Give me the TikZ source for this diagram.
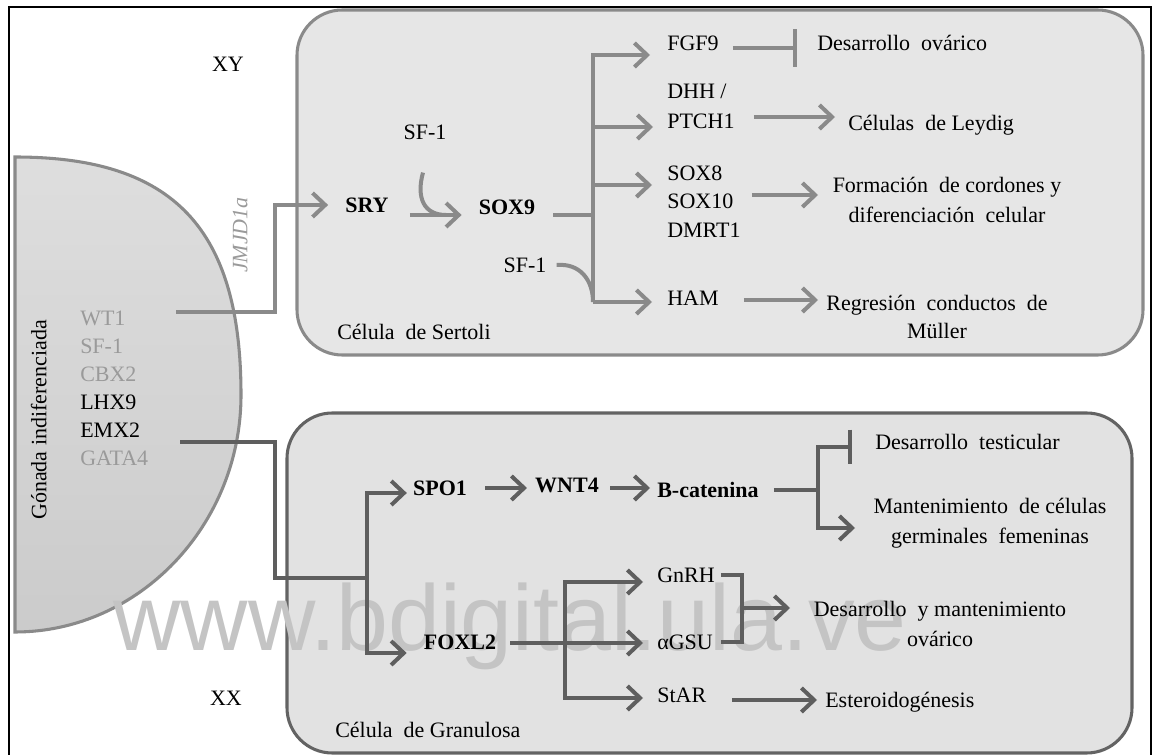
\documentclass[tikz,border=0pt]{standalone}
\usepackage{fontspec}
\setmainfont{Liberation Serif}
\newfontfamily\wmfont{Liberation Sans}
\usetikzlibrary{arrows.meta,calc}
\definecolor{ug}{HTML}{8A8A8A}
\definecolor{lgc}{HTML}{5E5E5E}
\definecolor{gn}{HTML}{9A9A9A}
\definecolor{boxa}{HTML}{E6E6E6}
\definecolor{boxb}{HTML}{E2E2E2}
\definecolor{brda}{HTML}{8A8A8A}
\definecolor{brdb}{HTML}{636363}
\definecolor{gona}{HTML}{DEDEDE}
\definecolor{gonb}{HTML}{CBCBCB}
\definecolor{wm}{HTML}{C4C4C4}
\begin{document}
\begin{tikzpicture}[x=0.75pt,y=-0.75pt,
  t/.style={font=\fontsize{16.5}{21}\selectfont, inner sep=0pt, text height=11pt, text depth=0pt},
  b/.style={t, font=\fontsize{16.5}{21}\selectfont\bfseries},
  ml/.style={font=\fontsize{16.5}{22.5}\selectfont, inner sep=0pt, align=center},
  mls/.style={font=\fontsize{16.5}{21.5}\selectfont, inner sep=0pt, align=left},
  ul/.style={draw=ug, line width=3pt},
  ua/.style={ul, -{Straight Barb[length=9.5pt,width=18pt]}},
  ll/.style={draw=lgc, line width=3pt},
  la/.style={ll, -{Straight Barb[length=9.5pt,width=18pt]}},
  ubar/.style={ul, -{Bar[width=28pt]}},
  lbar/.style={ll, -{Bar[width=26pt]}},
  boxA/.style={fill=boxa, draw=brda, line width=2.3pt, rounded corners=34pt},
  boxB/.style={fill=boxb, draw=brdb, line width=2.3pt, rounded corners=34pt},
]
\useasboundingbox (0,0) rectangle (1154,755);
% outer frame
\draw[black, line width=2.2pt] (9,760) -- (9,7) -- (1151,7) -- (1151,760);
% cell boxes
\path[boxA] (297,10) rectangle (1143,355);
\path[boxB] (287,413) rectangle (1132,753);
% gonad
\path[draw=brda, line width=2.3pt, top color=gona, bottom color=gonb]
  (15,157) .. controls (173,157) and (241,228) .. (241,395)
  .. controls (241,525) and (139,632) .. (15,632) -- cycle;
% watermark
\node[anchor=base west, inner sep=0pt, text=wm, font=\fontsize{70}{70}\selectfont\wmfont] (WM) at (113,650) {www.bdigital.ula.ve};

\node[t, rotate=90] (Gon) at (39,420) {Gónada indiferenciada};
\node[t, anchor=west, text=gn] (WT1) at (80,318) {WT1};
\node[t, anchor=west, text=gn] (SF1g) at (80,346) {SF-1};
\node[t, anchor=west, text=gn] (CBX2) at (80,374) {CBX2};
\node[t, anchor=west] (LHX9) at (80,402) {LHX9};
\node[t, anchor=west] (EMX2) at (80,430) {EMX2};
\node[t, anchor=west, text=gn] (GATA4) at (80,458) {GATA4};

% ---------- XY / Sertoli ----------
\node[t] (XY) at (228,64) {XY};
\node[t, rotate=90, text=gn, font=\fontsize{16.5}{21}\selectfont\itshape] (JMJ) at (240,235) {JMJD1a};
\node[b] (SRY) at (367,205) {SRY};
\node[t] (SF1a) at (425,132) {SF-1};
\node[b] (SOX9) at (507,207) {SOX9};
\node[t] (SF1b) at (525,265) {SF-1};
\node[t, anchor=west] (FGF9) at (667,43) {FGF9};
\node[ml, align=left, anchor=west] (DHH) at (667,108) {\strut DHH /\\\strut PTCH1};
\node[mls, anchor=west] (SOX8) at (667,203) {\strut SOX8\\\strut SOX10\\\strut DMRT1};
\node[t, anchor=west] (HAM) at (667,298) {HAM};
\node[t, anchor=west] (DesOv) at (817,43) {Desarrollo\ \ ovárico};
\node[t, anchor=west] (Leydig) at (848,123) {Células\ \ de Leydig};
\node[ml] (Form) at (947,202) {\strut Formación\ \ de cordones y\\\strut diferenciación\ \ celular};
\node[ml, font=\fontsize{16.5}{21}\selectfont] (Regr) at (937,319) {\strut Regresión\ \ conductos\ \ de\\\strut Müller};
\node[t, anchor=west] (Sertoli) at (337,332) {Célula\ \ de Sertoli};

\coordinate (gA) at (176,312);
\coordinate (kXY) at (275,205);
\draw[ua] (gA) -| (kXY) -- ($(SRY.west)+(-17,0)$);
\draw[ua] ($(SRY.east)+(21,10)$) -- ($(SOX9.west)+(-17,8)$);
\draw[ul] ($(SF1a.south)+(-2,33)$) .. controls (416,198) and (424,215) .. (446,215);
\coordinate (tB) at (593,302);
\draw[ul] ($(SOX9.east)+(18,8)$) -- (tB |- {$(SOX9.east)+(18,8)$});
\draw[ua] (tB) |- ($(FGF9.west)+(-17,12)$);
\draw[ua] (tB) -- ($(HAM.west)+(-15,4)$);
\draw[ua] ($(DHH.west)+(-74,19)$) -- ($(DHH.west)+(-14,19)$);
\draw[ua] ($(SOX8.west)+(-74,-18)$) -- ($(SOX8.west)+(-15,-18)$);
\draw[ul] ($(SF1b.east)+(10,0)$) .. controls (580,263) and (593,280) .. (tB);
\draw[ubar] ($(FGF9.east)+(14,5)$) -- ($(DesOv.west)+(-20,5)$);
\draw[ua] ($(DHH.east)+(19,9)$) -- ($(Leydig.west)+(-13,-6)$);
\draw[ua] ($(SOX8.east)+(11,-8)$) -- ($(Form.center)+(-129,-7)$);
\draw[ua] ($(HAM.east)+(25,2)$) -- ($(Regr.center)+(-119,-19)$);

% ---------- XX / Granulosa ----------
\node[t] (XX) at (226,698) {XX};
\node[t, anchor=west] (Gran) at (335,730) {Célula\ \ de Granulosa};
\node[b] (SPO1) at (440,488) {SPO1};
\node[b] (WNT4) at (567,485) {WNT4};
\node[b, anchor=west] (Bcat) at (657,490) {B-catenina};
\node[b] (FOXL2) at (460,642) {FOXL2};
\node[t, anchor=west] (GnRH) at (657,575) {GnRH};
\node[t, anchor=west] (aGSU) at (657,642) {αGSU};
\node[t, anchor=west] (StAR) at (657,695) {StAR};
\node[t, anchor=west] (DesTest) at (875,442) {Desarrollo\ \ testicular};
\node[ml] (Mant) at (990,523) {\strut Mantenimiento\ \ de células\\\strut germinales\ \ femeninas};
\node[ml] (DesMant) at (940,625) {\strut Desarrollo\ \ y mantenimiento\\\strut ovárico};
\node[t, anchor=west] (Ester) at (825,700) {Esteroidogénesis};

\coordinate (gE) at (180,442);
\coordinate (kXX) at (275,578);
\coordinate (lT) at (367,493);
\coordinate (lB) at (367,653);
\draw[ll] (gE) -| (kXX) -- (kXX -| lT);
\draw[la] (lB) |- ($(SPO1.west)+(-6,5)$);
\draw[la] (lT) |- ($(FOXL2.west)+(-17,11)$);
\draw[la] ($(SPO1.east)+(18,0)$) -- ($(WNT4.west)+(-8,3)$);
\draw[la] ($(WNT4.east)+(11,3)$) -- ($(Bcat.west)+(-7,-2)$);
\coordinate (bT) at (818,447);
\coordinate (bB) at (818,528);
\draw[ll] ($(Bcat.east)+(15,0)$) -- (Bcat.east -| bT);
\draw[lbar] (bB) |- ($(DesTest.west)+(-23,5)$);
\draw[la] (bT) |- ($(Mant.center)+(-135,5)$);
\coordinate (fT) at (565,582);
\coordinate (fB) at (565,698);
\draw[la] (fB) |- ($(GnRH.west)+(-14,7)$);
\draw[la] (fT) |- ($(StAR.west)+(-14,3)$);
\draw[la] ($(FOXL2.east)+(14,1)$) -- ($(aGSU.west)+(-14,1)$);
\coordinate (gb) at (742,608);
\draw[ll] ($(GnRH.east)+(6,0)$) -| (gb |- aGSU.east) -- ($(aGSU.east)+(8,0)$);
\draw[la] (gb) -- ($(DesMant.center)+(-150,-17)$);
\draw[la] ($(StAR.east)+(26,5)$) -- ($(Ester.west)+(-8,0)$);
\end{tikzpicture}
\end{document}
